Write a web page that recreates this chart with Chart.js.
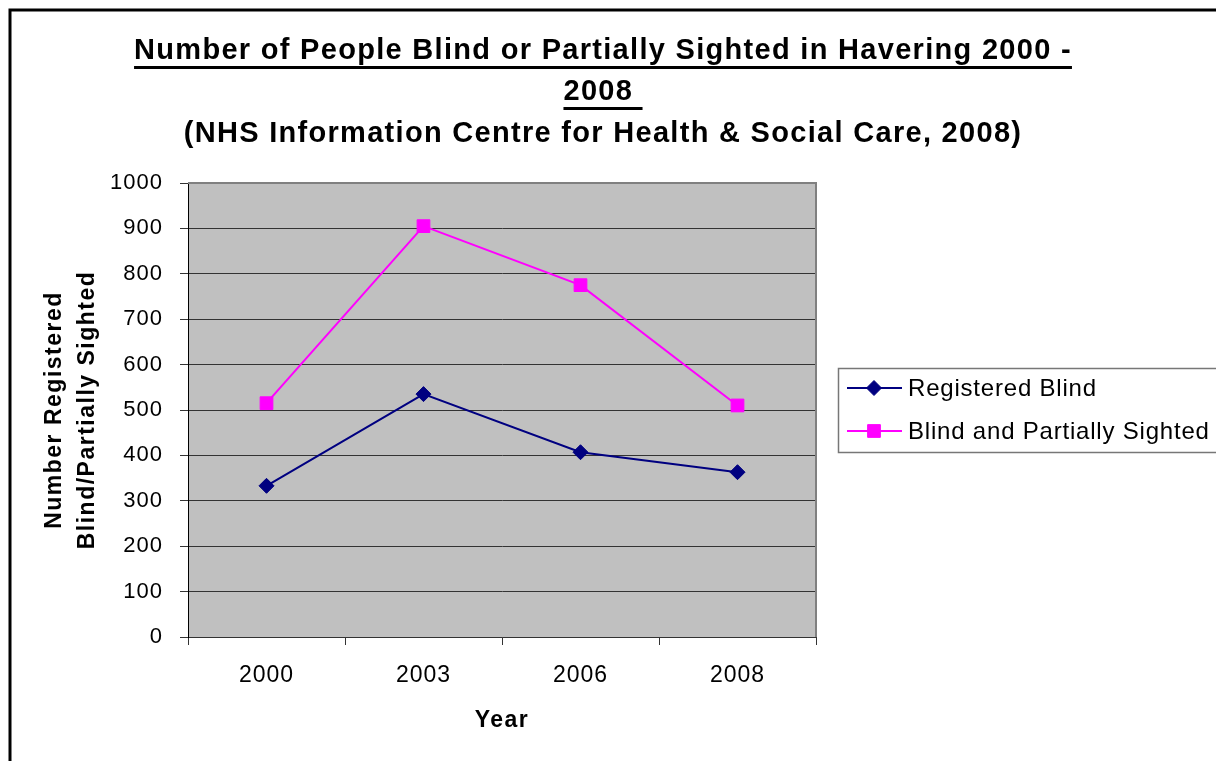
<!DOCTYPE html>
<html><head><meta charset="utf-8">
<script src="https://cdn.jsdelivr.net/npm/chart.js@4.4.1/dist/chart.umd.min.js"></script>
<style>html,body{margin:0;padding:0;background:#fff;overflow:hidden}canvas{display:block}</style>
</head><body>
<canvas id="c" width="1216" height="761"></canvas>
<script>
// ---- data ----
const categories = ['2000', '2003', '2006', '2008'];
const registeredBlind = [333, 535, 407, 363];
const blindAndPartiallySighted = [515, 905, 775, 510];
const seriesNames = ['Registered Blind', 'Blind and Partially Sighted'];
const yTickValues = [0, 100, 200, 300, 400, 500, 600, 700, 800, 900, 1000];
const titleLines = ['Number of People Blind or Partially Sighted in Havering 2000 -', '2008 ', '(NHS Information Centre for Health & Social Care, 2008)'];
const yAxisTitle = ['Number Registered', 'Blind/Partially Sighted'];
const xAxisTitle = 'Year';

// ---- styling ----
const FONT = "'Liberation Sans', Arial, sans-serif";
const REG_LS = '1px', BOLD_LS = '1.5px';
const seriesColors = ['#000080', '#FF00FF'];
const seriesStyles = ['rectRot', 'rect'];
const seriesRadius = [7.5, 9];

function marker(ctx, style, x, y, r, color) {
  ctx.save();
  ctx.fillStyle = color; ctx.strokeStyle = color; ctx.lineWidth = 1;
  ctx.beginPath();
  if (style === 'rectRot') {
    ctx.moveTo(x - r, y); ctx.lineTo(x, y - r); ctx.lineTo(x + r, y); ctx.lineTo(x, y + r); ctx.closePath();
  } else {
    const s = r * Math.SQRT1_2; ctx.rect(x - s, y - s, 2 * s, 2 * s);
  }
  ctx.fill(); ctx.stroke();
  ctx.restore();
}

const decor = {
  id: 'decor',
  beforeLayout(chart) { chart.ctx.letterSpacing = REG_LS; },
  afterLayout(chart) {
    Object.values(chart.scales).forEach(s => {
      if (s._lsPatched) return; s._lsPatched = true;
      const orig = s.drawTitle.bind(s);
      s.drawTitle = function () { const c = this.ctx; const prev = c.letterSpacing; c.letterSpacing = BOLD_LS; orig(); c.letterSpacing = prev; };
    });
  },
  beforeDraw(chart) {
    const ctx = chart.ctx, a = chart.chartArea;
    ctx.letterSpacing = REG_LS;
    ctx.save();
    ctx.fillStyle = '#C0C0C0';
    ctx.fillRect(a.left, a.top, a.right - a.left, a.bottom - a.top);
    ctx.strokeStyle = '#000'; ctx.lineWidth = 3;
    ctx.beginPath(); ctx.moveTo(10, 761); ctx.lineTo(10, 10); ctx.lineTo(1216, 10); ctx.stroke();
    ctx.restore();
  },
  beforeDatasetsDraw(chart) {
    const ctx = chart.ctx, a = chart.chartArea;
    ctx.save(); ctx.strokeStyle = '#808080'; ctx.lineWidth = 2;
    ctx.beginPath(); ctx.moveTo(a.left, a.top); ctx.lineTo(a.right, a.top); ctx.lineTo(a.right, a.bottom); ctx.stroke();
    ctx.restore();
  },
  afterDraw(chart) {
    const ctx = chart.ctx;
    ctx.save();
    // title
    ctx.fillStyle = '#000'; ctx.strokeStyle = '#000';
    ctx.font = 'bold 29px ' + FONT; ctx.letterSpacing = '1.3px';
    ctx.textAlign = 'left'; ctx.textBaseline = 'middle';
    const cx = 603, ys = [51, 92, 134], under = [true, true, false];
    titleLines.forEach((t, i) => {
      const w = ctx.measureText(t).width;
      const x0 = cx - w / 2;
      ctx.fillText(t, x0, ys[i]);
      if (under[i]) { ctx.fillRect(x0, ys[i] + 15, w, 3); }
    });
    // legend
    ctx.strokeStyle = '#777'; ctx.lineWidth = 1.5;
    ctx.strokeRect(838.5, 368.5, 420, 84);
    const rowY = [388, 431];
    ctx.font = '24px ' + FONT; ctx.letterSpacing = '0.8px';
    seriesNames.forEach((n, i) => {
      ctx.strokeStyle = seriesColors[i]; ctx.lineWidth = 2;
      ctx.beginPath(); ctx.moveTo(847, rowY[i]); ctx.lineTo(902, rowY[i]); ctx.stroke();
      marker(ctx, seriesStyles[i], 874, rowY[i], seriesRadius[i], seriesColors[i]);
      ctx.fillStyle = '#000'; ctx.fillText(n, 908, rowY[i] + 1);
    });
    ctx.restore();
  }
};

new Chart(document.getElementById('c'), {
  type: 'line',
  data: {
    labels: categories,
    datasets: [
      { label: seriesNames[1], data: blindAndPartiallySighted, borderColor: seriesColors[1], backgroundColor: seriesColors[1],
        borderWidth: 2, pointStyle: seriesStyles[1], pointRadius: seriesRadius[1], pointBorderWidth: 1, tension: 0, fill: false },
      { label: seriesNames[0], data: registeredBlind, borderColor: seriesColors[0], backgroundColor: seriesColors[0],
        borderWidth: 2, pointStyle: seriesStyles[0], pointRadius: seriesRadius[0], pointBorderWidth: 1, tension: 0, fill: false }
    ]
  },
  plugins: [decor],
  options: {
    animation: false, responsive: false, devicePixelRatio: 1,
    layout: { padding: { left: 0, right: 400, top: 183, bottom: 0 } },
    plugins: { legend: { display: false }, title: { display: false }, tooltip: { enabled: false } },
    scales: {
      x: {
        type: 'category', offset: true,
        grid: { drawOnChartArea: false, offset: true, drawTicks: true, tickLength: 8, color: '#333', tickColor: '#333' },
        border: { display: true, color: '#333', width: 1 },
        ticks: { color: '#000', font: { family: FONT, size: 23 }, padding: 17, maxRotation: 0, autoSkip: false },
        title: { display: true, text: xAxisTitle, color: '#000', font: { family: FONT, size: 23, weight: 'bold', lineHeight: 1.2 }, padding: { top: 0, bottom: 27 } },
        afterFit(s) { s.height = 124; }
      },
      y: {
        min: 0, max: 1000,
        afterBuildTicks(s) { s.ticks = yTickValues.map(v => ({ value: v })); },
        ticks: { color: '#000', font: { family: FONT, size: 22 }, padding: 17, callback: v => String(v) },
        grid: { color: '#333', tickColor: '#333', tickLength: 8, lineWidth: 1 },
        border: { color: '#000', width: 1 },
        title: { display: true, text: yAxisTitle, color: '#000', font: { family: FONT, size: 23, weight: 'bold', lineHeight: 1.45 }, padding: { top: 38, bottom: 0 } },
        afterFit(s) { s.width = 188; }
      }
    }
  }
});
</script>
</body></html>
